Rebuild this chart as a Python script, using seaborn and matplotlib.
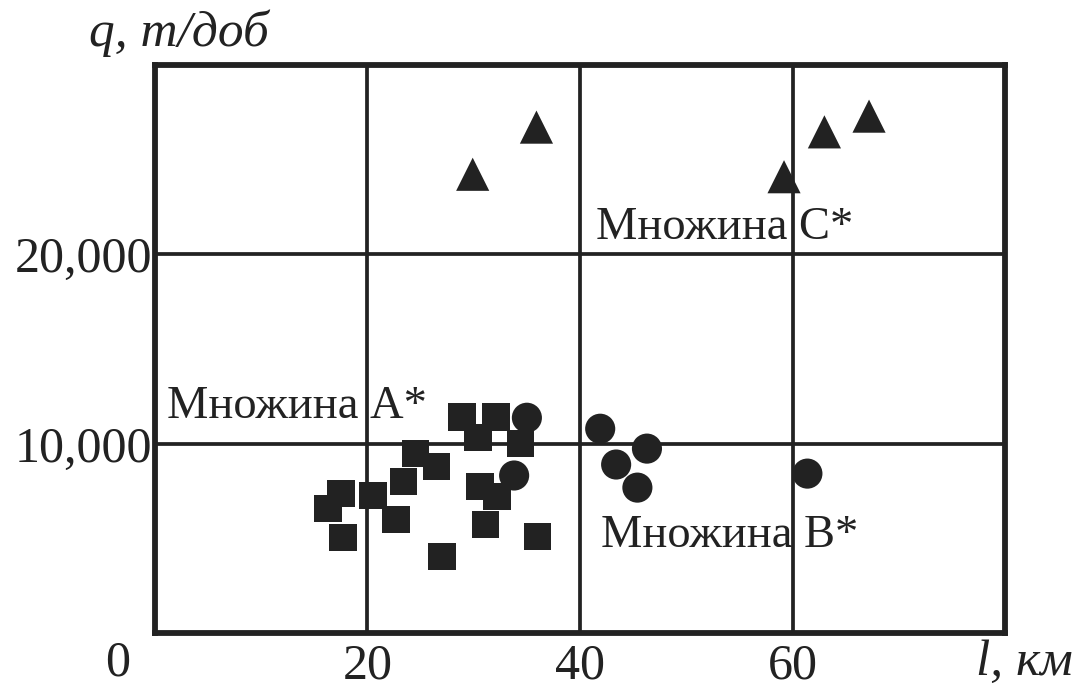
import matplotlib
matplotlib.use("Agg")
import matplotlib.pyplot as plt
import pandas as pd
import seaborn as sns

# set A* (squares)
a_dist = [28.9, 32.1, 30.4, 34.4, 24.5, 26.5, 23.4, 17.5, 16.3, 20.5,
          30.6, 32.2, 22.7, 17.7, 31.1, 36.0, 27.0]
a_rate = [11420, 11420, 10320, 10000, 9470, 8790, 8000, 7370, 6580, 7260,
          7740, 7210, 6000, 5050, 5740, 5100, 4050]

# set B* (circles)
b_dist = [35.0, 33.8, 41.9, 46.3, 43.4, 45.4, 61.4]
b_rate = [11370, 8320, 10790, 9740, 8900, 7680, 8420]

# set C* (triangles)
c_dist = [29.9, 35.9, 59.2, 63.0, 67.2]
c_rate = [24230, 26720, 24100, 26470, 27300]

x_ticks = [20, 40, 60]
y_ticks = [10000, 20000]
y_tick_labels = ["10,000", "20,000"]

ink = "#222222"

df = pd.DataFrame({
    "l": a_dist + b_dist + c_dist,
    "q": a_rate + b_rate + c_rate,
    "set": ["A"] * len(a_dist) + ["B"] * len(b_dist) + ["C"] * len(c_dist),
})

sns.set_style("white")
plt.rcParams["font.family"] = ["Liberation Serif", "DejaVu Serif"]

fig = plt.figure(figsize=(10.74, 6.88), dpi=100)
ax = fig.add_axes([0.1443, 0.0799, 0.7915, 0.8256])

for name, marker, size in [("A", "s", 390), ("B", "o", 470), ("C", "^", 570)]:
    sub = df[df["set"] == name]
    sns.scatterplot(data=sub, x="l", y="q", marker=marker, s=size,
                    color=ink, edgecolor="none", linewidth=0,
                    legend=False, ax=ax, zorder=3)

ax.set_xlim(0, 80)
ax.set_ylim(0, 30000)
ax.set_xticks(x_ticks)
ax.set_xticklabels([str(t) for t in x_ticks])
ax.set_yticks(y_ticks)
ax.set_yticklabels(y_tick_labels)
ax.tick_params(axis="x", length=0, pad=7, labelsize=36, colors=ink)
ax.tick_params(axis="y", length=0, pad=2, labelsize=36, colors=ink)
ax.set_xlabel("")
ax.set_ylabel("")

ax.grid(True, color=ink, linewidth=2.7)
ax.set_axisbelow(True)
for sp in ax.spines.values():
    sp.set_visible(True)
    sp.set_color(ink)
    sp.set_linewidth(4.2)

# origin and axis names
ax.annotate("0", xy=(0, 0), xytext=(-27, -22), textcoords="offset points",
            ha="center", va="center", fontsize=36, color=ink,
            annotation_clip=False)
ax.annotate("l, км", xy=(80, 0), xytext=(14, -21), textcoords="offset points",
            ha="center", va="center", fontsize=37, style="italic",
            color=ink, annotation_clip=False)
ax.annotate("q, т/доб", xy=(0, 30000), xytext=(17, 23),
            textcoords="offset points", ha="center", va="center",
            fontsize=37, style="italic", color=ink, annotation_clip=False)

# set labels
ax.text(1.1, 11370, "Множина А*", fontsize=33.5, color=ink, va="baseline")
ax.text(41.5, 20790, "Множина С*", fontsize=33.5, color=ink, va="baseline")
ax.text(42.0, 4530, "Множина В*", fontsize=33.5, color=ink, va="baseline")

fig.savefig("out.png", dpi=100)
